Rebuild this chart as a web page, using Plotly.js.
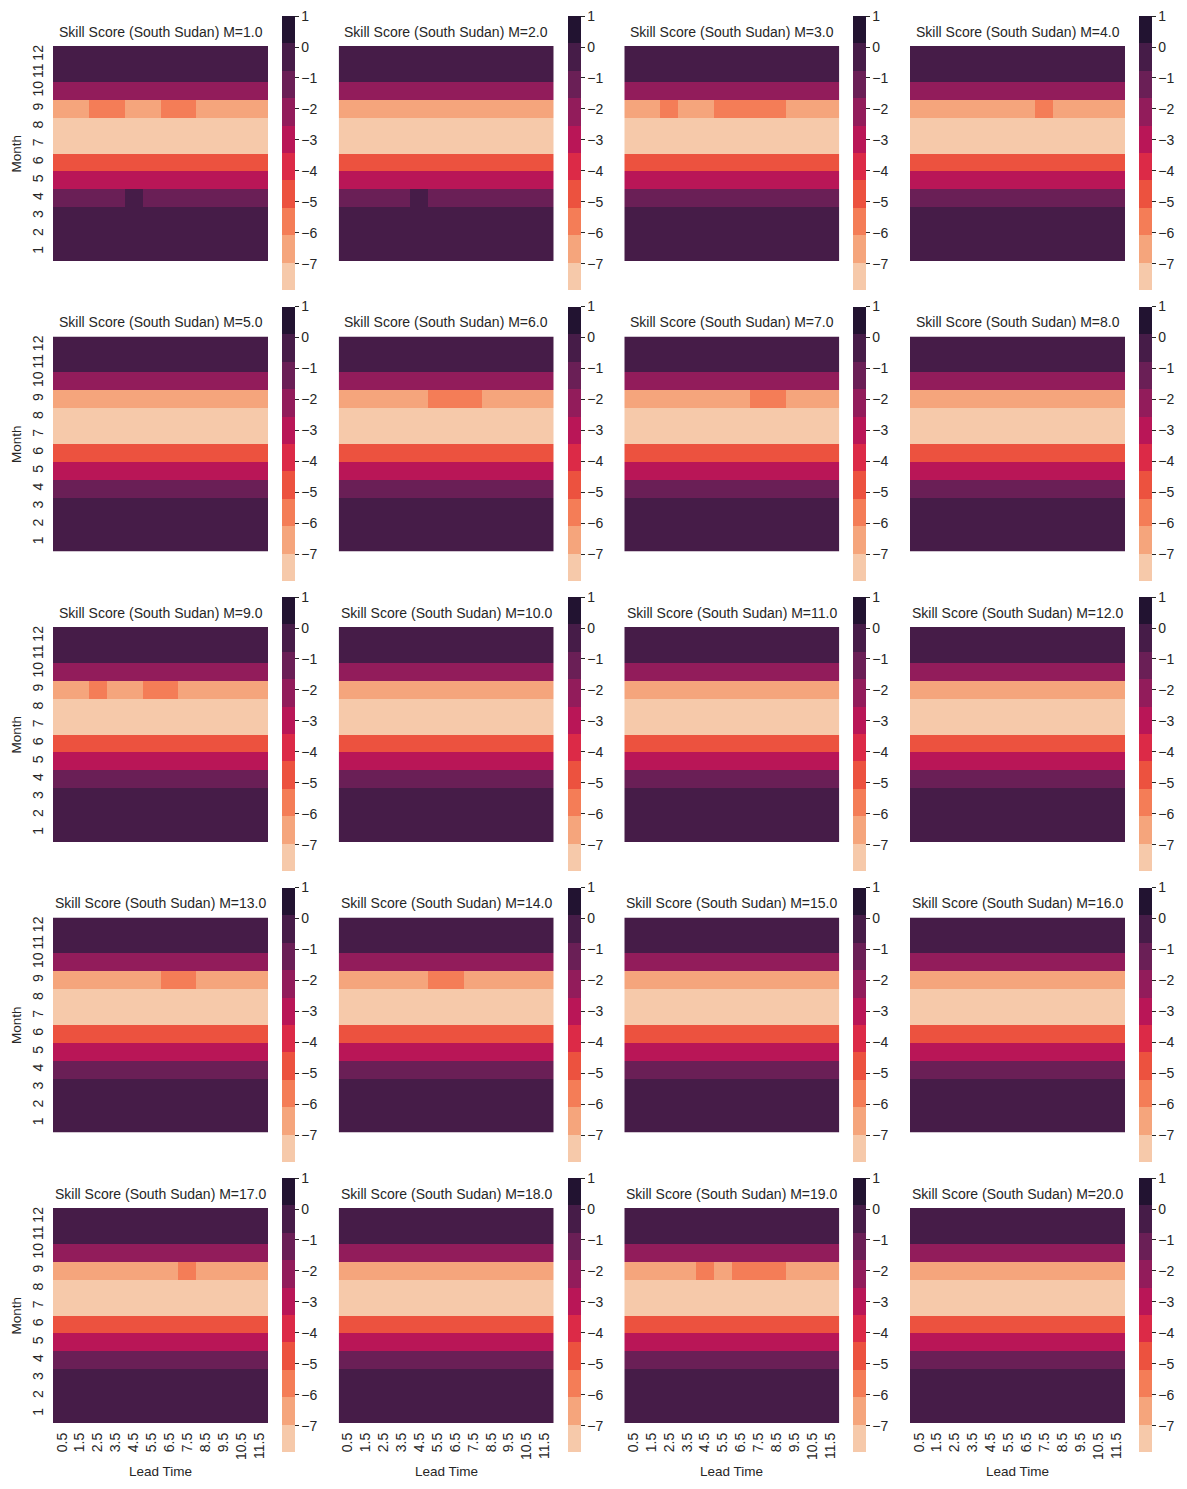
<!DOCTYPE html>
<html>
<head>
<meta charset="utf-8">
<script src="https://cdn.plot.ly/plotly-3.0.1.min.js"></script>
<style>html,body{margin:0;padding:0;background:#fff;}#chart{width:1187px;height:1489px;}</style>
</head>
<body>
<div id="chart"></div>
<script>
// ---------------- data ----------------
const months = [1, 2, 3, 4, 5, 6, 7, 8, 9, 10, 11, 12];
const monthLabels = ['1', '2', '3', '4', '5', '6', '7', '8', '9', '10', '11', '12'];
const leadTimes = [0.5, 1.5, 2.5, 3.5, 4.5, 5.5, 6.5, 7.5, 8.5, 9.5, 10.5, 11.5];
const leadLabels = ['0.5', '1.5', '2.5', '3.5', '4.5', '5.5', '6.5', '7.5', '8.5', '9.5', '10.5', '11.5'];
const mValues = ['1.0', '2.0', '3.0', '4.0', '5.0', '6.0', '7.0', '8.0', '9.0', '10.0',
                 '11.0', '12.0', '13.0', '14.0', '15.0', '16.0', '17.0', '18.0', '19.0', '20.0'];
// skill score per month (uniform across lead time, except months 9 and 4 given below)
const monthScores = [-0.3, -0.3, -0.3, -1.2, -3.0, -4.8, -7.4, -7.4, -6.5, -2.1, -0.3, -0.3];
// month 9 scores per panel (M=1..20) by lead time
const month9Scores = [
  [-6.5, -6.5, -5.8, -5.8, -6.5, -6.5, -5.8, -5.8, -6.5, -6.5, -6.5, -6.5],
  [-6.5, -6.5, -6.5, -6.5, -6.5, -6.5, -6.5, -6.5, -6.5, -6.5, -6.5, -6.5],
  [-6.5, -6.5, -5.8, -6.5, -6.5, -5.8, -5.8, -5.8, -5.8, -6.5, -6.5, -6.5],
  [-6.5, -6.5, -6.5, -6.5, -6.5, -6.5, -6.5, -5.8, -6.5, -6.5, -6.5, -6.5],
  [-6.5, -6.5, -6.5, -6.5, -6.5, -6.5, -6.5, -6.5, -6.5, -6.5, -6.5, -6.5],
  [-6.5, -6.5, -6.5, -6.5, -6.5, -5.8, -5.8, -5.8, -6.5, -6.5, -6.5, -6.5],
  [-6.5, -6.5, -6.5, -6.5, -6.5, -6.5, -6.5, -5.8, -5.8, -6.5, -6.5, -6.5],
  [-6.5, -6.5, -6.5, -6.5, -6.5, -6.5, -6.5, -6.5, -6.5, -6.5, -6.5, -6.5],
  [-6.5, -6.5, -5.8, -6.5, -6.5, -5.8, -5.8, -6.5, -6.5, -6.5, -6.5, -6.5],
  [-6.5, -6.5, -6.5, -6.5, -6.5, -6.5, -6.5, -6.5, -6.5, -6.5, -6.5, -6.5],
  [-6.5, -6.5, -6.5, -6.5, -6.5, -6.5, -6.5, -6.5, -6.5, -6.5, -6.5, -6.5],
  [-6.5, -6.5, -6.5, -6.5, -6.5, -6.5, -6.5, -6.5, -6.5, -6.5, -6.5, -6.5],
  [-6.5, -6.5, -6.5, -6.5, -6.5, -6.5, -5.8, -5.8, -6.5, -6.5, -6.5, -6.5],
  [-6.5, -6.5, -6.5, -6.5, -6.5, -5.8, -5.8, -6.5, -6.5, -6.5, -6.5, -6.5],
  [-6.5, -6.5, -6.5, -6.5, -6.5, -6.5, -6.5, -6.5, -6.5, -6.5, -6.5, -6.5],
  [-6.5, -6.5, -6.5, -6.5, -6.5, -6.5, -6.5, -6.5, -6.5, -6.5, -6.5, -6.5],
  [-6.5, -6.5, -6.5, -6.5, -6.5, -6.5, -6.5, -5.8, -6.5, -6.5, -6.5, -6.5],
  [-6.5, -6.5, -6.5, -6.5, -6.5, -6.5, -6.5, -6.5, -6.5, -6.5, -6.5, -6.5],
  [-6.5, -6.5, -6.5, -6.5, -5.8, -6.5, -5.8, -5.8, -5.8, -6.5, -6.5, -6.5],
  [-6.5, -6.5, -6.5, -6.5, -6.5, -6.5, -6.5, -6.5, -6.5, -6.5, -6.5, -6.5]
];
// month 4 scores per panel (M=1..20) by lead time
const month4Scores = [
  [-1.2, -1.2, -1.2, -1.2, -0.5, -1.2, -1.2, -1.2, -1.2, -1.2, -1.2, -1.2],
  [-1.2, -1.2, -1.2, -1.2, -0.5, -1.2, -1.2, -1.2, -1.2, -1.2, -1.2, -1.2],
  [-1.2, -1.2, -1.2, -1.2, -1.2, -1.2, -1.2, -1.2, -1.2, -1.2, -1.2, -1.2],
  [-1.2, -1.2, -1.2, -1.2, -1.2, -1.2, -1.2, -1.2, -1.2, -1.2, -1.2, -1.2],
  [-1.2, -1.2, -1.2, -1.2, -1.2, -1.2, -1.2, -1.2, -1.2, -1.2, -1.2, -1.2],
  [-1.2, -1.2, -1.2, -1.2, -1.2, -1.2, -1.2, -1.2, -1.2, -1.2, -1.2, -1.2],
  [-1.2, -1.2, -1.2, -1.2, -1.2, -1.2, -1.2, -1.2, -1.2, -1.2, -1.2, -1.2],
  [-1.2, -1.2, -1.2, -1.2, -1.2, -1.2, -1.2, -1.2, -1.2, -1.2, -1.2, -1.2],
  [-1.2, -1.2, -1.2, -1.2, -1.2, -1.2, -1.2, -1.2, -1.2, -1.2, -1.2, -1.2],
  [-1.2, -1.2, -1.2, -1.2, -1.2, -1.2, -1.2, -1.2, -1.2, -1.2, -1.2, -1.2],
  [-1.2, -1.2, -1.2, -1.2, -1.2, -1.2, -1.2, -1.2, -1.2, -1.2, -1.2, -1.2],
  [-1.2, -1.2, -1.2, -1.2, -1.2, -1.2, -1.2, -1.2, -1.2, -1.2, -1.2, -1.2],
  [-1.2, -1.2, -1.2, -1.2, -1.2, -1.2, -1.2, -1.2, -1.2, -1.2, -1.2, -1.2],
  [-1.2, -1.2, -1.2, -1.2, -1.2, -1.2, -1.2, -1.2, -1.2, -1.2, -1.2, -1.2],
  [-1.2, -1.2, -1.2, -1.2, -1.2, -1.2, -1.2, -1.2, -1.2, -1.2, -1.2, -1.2],
  [-1.2, -1.2, -1.2, -1.2, -1.2, -1.2, -1.2, -1.2, -1.2, -1.2, -1.2, -1.2],
  [-1.2, -1.2, -1.2, -1.2, -1.2, -1.2, -1.2, -1.2, -1.2, -1.2, -1.2, -1.2],
  [-1.2, -1.2, -1.2, -1.2, -1.2, -1.2, -1.2, -1.2, -1.2, -1.2, -1.2, -1.2],
  [-1.2, -1.2, -1.2, -1.2, -1.2, -1.2, -1.2, -1.2, -1.2, -1.2, -1.2, -1.2],
  [-1.2, -1.2, -1.2, -1.2, -1.2, -1.2, -1.2, -1.2, -1.2, -1.2, -1.2, -1.2]
];
const cbTickVals = [1, 0, -1, -2, -3, -4, -5, -6, -7];
const cbTickText = ['1', '0', '\u22121', '\u22122', '\u22123', '\u22124', '\u22125', '\u22126', '\u22127'];
const zMin = -7.84, zMax = 1.0;
// rocket palette (10 steps), low -> high
const paletteLowToHigh = ['#f6c9aa', '#f5a57c', '#f47d57', '#ec523f', '#dc2a47', '#b91657',
                          '#921c5b', '#6a1f56', '#461c48', '#221331'];

// ---------------- build ----------------
const W = 1187, H = 1489;
const FONT = 'Liberation Sans, Arial, Helvetica, sans-serif';
const TXT = '#262626';
const TICK_SIZE = 14;
const colorscale = [];
paletteLowToHigh.forEach((c, i) => { colorscale.push([i / 10, c]); colorscale.push([(i + 1) / 10, c]); });

const colX = [53, 338.7, 624.3, 910];
const rowTop = [46, 336.5, 627, 917.5, 1208];
const SIZE = 215;

const data = [];
const layout = {
  width: W, height: H,
  margin: {l: 0, r: 0, t: 0, b: 0, pad: 0},
  paper_bgcolor: '#ffffff', plot_bgcolor: '#ffffff',
  font: {family: FONT, color: TXT, size: 13},
  showlegend: false,
  annotations: []
};

for (let p = 0; p < 20; p++) {
  const r = Math.floor(p / 4), c = p % 4;
  const n = p + 1;
  const xa = n === 1 ? 'x' : 'x' + n, ya = n === 1 ? 'y' : 'y' + n;
  const z = months.map((m, mi) => {
    if (m === 9) return month9Scores[p].slice();
    if (m === 4) return month4Scores[p].slice();
    return leadTimes.map(() => monthScores[mi]);
  });
  const x0 = colX[c], top = rowTop[r];
  data.push({
    type: 'heatmap', x: leadTimes, y: months, z: z,
    xaxis: xa, yaxis: ya,
    zmin: zMin, zmax: zMax, colorscale: colorscale, zsmooth: false,
    hoverinfo: 'skip',
    colorbar: {
      x: (x0 + 229) / W, xanchor: 'left', xpad: 0,
      y: 1 - (top - 30) / H, yanchor: 'top', ypad: 0,
      len: 274, lenmode: 'pixels', thickness: 13, outlinewidth: 0,
      tickvals: cbTickVals, ticktext: cbTickText,
      ticks: 'outside', ticklen: 4, tickwidth: 1, tickcolor: TXT,
      ticklabelstandoff: 2,
      tickfont: {size: TICK_SIZE, color: TXT, family: FONT}
    }
  });
  const axName = n === 1 ? '' : String(n);
  layout['xaxis' + axName] = {
    domain: [x0 / W, (x0 + SIZE) / W], anchor: ya,
    range: [0, 12], tickvals: leadTimes, ticktext: leadLabels, tickangle: -90,
    showticklabels: r === 4, ticks: '', showgrid: false, zeroline: false, showline: false,
    ticklabelstandoff: 6,
    tickfont: {size: TICK_SIZE, color: TXT, family: FONT}, fixedrange: true
  };
  layout['yaxis' + axName] = {
    domain: [1 - (top + SIZE) / H, 1 - top / H], anchor: xa,
    range: [0.5, 12.5], tickvals: months, ticktext: monthLabels, tickangle: -90,
    showticklabels: c === 0, ticks: '', showgrid: false, zeroline: false, showline: false,
    ticklabelstandoff: 6,
    tickfont: {size: TICK_SIZE, color: TXT, family: FONT}, fixedrange: true
  };
  layout.annotations.push({
    text: 'Skill Score (South Sudan) M=' + mValues[p],
    xref: 'paper', yref: 'paper', x: (x0 + SIZE / 2) / W, y: 1 - (top - 14) / H,
    xanchor: 'center', yanchor: 'middle', showarrow: false,
    font: {size: 14, color: TXT, family: FONT}
  });
  if (c === 0) {
    layout.annotations.push({
      text: 'Month', textangle: -90,
      xref: 'paper', yref: 'paper', x: 16 / W, y: 1 - (top + SIZE / 2) / H,
      xanchor: 'center', yanchor: 'middle', showarrow: false,
      font: {size: 13.5, color: TXT, family: FONT}
    });
  }
  if (r === 4) {
    layout.annotations.push({
      text: 'Lead Time',
      xref: 'paper', yref: 'paper', x: (x0 + SIZE / 2) / W, y: 1 - 1471 / H,
      xanchor: 'center', yanchor: 'middle', showarrow: false,
      font: {size: 13.5, color: TXT, family: FONT}
    });
  }
}

Plotly.newPlot('chart', data, layout, {staticPlot: true, displayModeBar: false});
</script>
</body>
</html>
